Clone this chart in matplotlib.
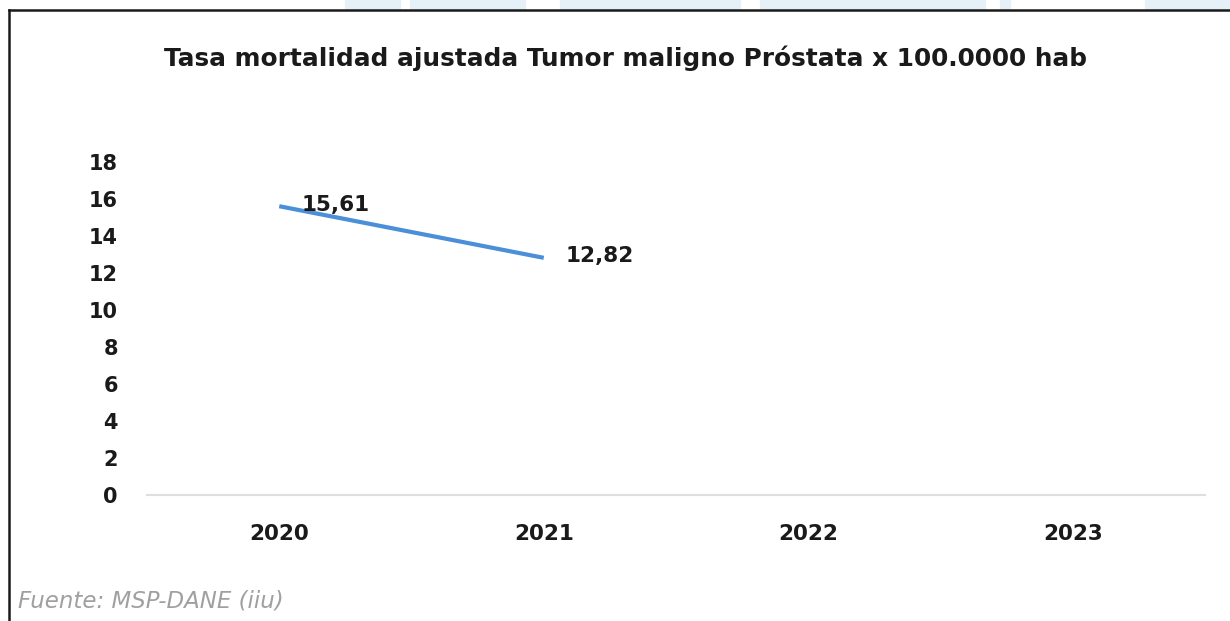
import matplotlib.pyplot as plt
from matplotlib.patches import Rectangle
import numpy as np

years = ["2020", "2021", "2022", "2023"]
tasa = [15.61, 12.82]
etiquetas = ["15,61", "12,82"]
yticks = [0, 2, 4, 6, 8, 10, 12, 14, 16, 18]

W, H = 1230, 621
fig = plt.figure(figsize=(W / 100, H / 100), dpi=100)
fig.patch.set_facecolor("white")
plt.rcParams["font.family"] = "DejaVu Sans"

# faint watermark blocks peeking above the frame
for x0, x1 in [(345, 400), (410, 525), (560, 740), (760, 985), (1000, 1010), (1145, 1300)]:
    fig.patches.append(Rectangle((x0 / W, 1 - 9 / H), (x1 - x0) / W, 9 / H,
                                 transform=fig.transFigure, color="#e6f1f7", zorder=0))

# frame (only top and left edges visible)
fig.add_artist(plt.Line2D([9 / W, 9 / W], [0, 1 - 9.5 / H], transform=fig.transFigure,
                          color="#1a1a1a", lw=1.8, zorder=5))
fig.add_artist(plt.Line2D([9 / W, 1], [1 - 9.5 / H, 1 - 9.5 / H], transform=fig.transFigure,
                          color="#1a1a1a", lw=1.8, zorder=5))

ax = fig.add_axes([147 / W, 1 - 495 / H, (1205 - 147) / W, (495 - 162) / H])
x = np.arange(len(years))
ax.plot(x[:len(tasa)], tasa, color="#4a8fd8", lw=3, solid_capstyle="butt")
for xi, v, t in zip(x, tasa, etiquetas):
    ax.annotate(t, (xi, v), xytext=(16, 1), textcoords="offset points",
                ha="left", va="center", fontsize=15.5, fontweight="bold", color="#1a1a1a")

ax.set_xlim(-0.5, 3.5)
ax.set_ylim(0, 18)
ax.set_yticks(yticks)
ax.set_yticklabels([str(v) for v in yticks], fontsize=15, fontweight="bold", color="#1a1a1a")
ax.set_xticks(x)
ax.set_xticklabels(years, fontsize=15.5, fontweight="bold", color="#1a1a1a")
ax.tick_params(axis="both", length=0)
ax.tick_params(axis="y", pad=21)
ax.tick_params(axis="x", pad=21)
for s in ["top", "right", "left"]:
    ax.spines[s].set_visible(False)
ax.spines["bottom"].set_color("#dedede")
ax.spines["bottom"].set_linewidth(1.5)

fig.text(625 / W, 1 - 58 / H, "Tasa mortalidad ajustada Tumor maligno Próstata x 100.0000 hab",
         ha="center", va="center", fontsize=17.8, fontweight="bold", color="#1a1a1a")
fig.text(18 / W, 1 - 601 / H, "Fuente: MSP-DANE (iiu)", ha="left", va="center",
         fontsize=16.5, style="italic", color="#a0a0a0")

fig.savefig("out.png", dpi=100)
